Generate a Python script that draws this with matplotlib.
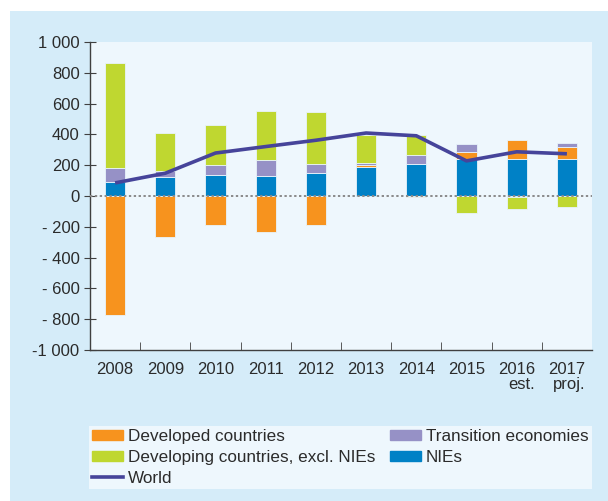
import matplotlib.pyplot as plt
import matplotlib.patches as mpatches
from matplotlib.lines import Line2D
import numpy as np

plt.rcParams["font.family"] = ["Liberation Sans", "DejaVu Sans"]

years = ["2008", "2009", "2010", "2011", "2012", "2013", "2014", "2015", "2016\nest.", "2017\nproj."]
nies = [89, 126, 137, 133, 150, 187, 211, 241, 243, 243]
developed = [-773, -263, -188, -233, -188, 13, -9, 46, 122, 72]
transition = [93, 39, 65, 99, 61, 13, 52, 50, -5, 28]
developing = [679, 241, 261, 317, 334, 185, 135, -111, -77, -72]
world = [85, 148, 279, 321, 362, 409, 391, 228, 287, 274]

yticks = [1000, 800, 600, 400, 200, 0, -200, -400, -600, -800, -1000]
ytick_labels = ["1 000", "800", "600", "400", "200", "0", "- 200", "- 400", "- 600", "- 800", "-1 000"]

c_dev = "#f7931e"
c_devg = "#bfd730"
c_tran = "#9691c6"
c_nie = "#0081c6"
c_world = "#46449a"
bg_out = "#d5ecf9"
bg_in = "#eef7fd"
txt = "#2b2b2b"

W, H = 608, 501
fig = plt.figure(figsize=(W / 100, H / 100), dpi=100)
fig.patch.set_facecolor("white")
fig.patches.append(mpatches.Rectangle((10 / W, 0), 1, 1 - 11 / H, transform=fig.transFigure,
                                      facecolor=bg_out, edgecolor="none", zorder=-10))

ax = fig.add_axes([90 / W, 1 - 350 / H, (592 - 90) / W, (350 - 42) / H])
ax.set_facecolor(bg_in)

x = np.arange(len(years))
width = 0.4
series = [(nies, c_nie), (developed, c_dev), (transition, c_tran), (developing, c_devg)]
pos = np.zeros(len(x))
neg = np.zeros(len(x))
for vals, col in series:
    v = np.array(vals, dtype=float)
    bottom = np.where(v >= 0, pos, neg)
    ax.bar(x, v, width, bottom=bottom, color=col, edgecolor="#e8f4fb", linewidth=0.6, zorder=2)
    pos = pos + np.where(v >= 0, v, 0)
    neg = neg + np.where(v < 0, v, 0)

ax.axhline(0, color="#8a8a8a", linestyle=(0, (1.2, 1.3)), linewidth=1.4, zorder=3)
ax.plot(x, world, color=c_world, linewidth=2.6, zorder=4, solid_capstyle="butt")

ax.set_xlim(-0.5, len(x) - 0.5)
ax.set_ylim(-1000, 1000)
ax.set_yticks(yticks)
ax.set_yticklabels(ytick_labels)
ax.set_xticks(x)
ax.set_xticklabels(years, multialignment="right", linespacing=0.95)
ax.set_xticks(np.arange(0.5, len(x) - 0.5, 1), minor=True)
ax.tick_params(axis="x", which="major", length=0, labelsize=12, colors=txt, pad=9)
ax.tick_params(axis="x", which="minor", direction="in", length=6, color="#404040")
ax.tick_params(axis="y", direction="inout", length=9, labelsize=12, colors=txt, pad=3)
ax.tick_params(axis="y", color="#404040")

for s in ["top", "right"]:
    ax.spines[s].set_visible(False)
for s in ["left", "bottom"]:
    ax.spines[s].set_color("#404040")
    ax.spines[s].set_linewidth(1.0)

handles = [
    mpatches.Patch(color=c_dev, label="Developed countries"),
    mpatches.Patch(color=c_devg, label="Developing countries, excl. NIEs"),
    Line2D([], [], color=c_world, linewidth=2.6, label="World"),
    mpatches.Patch(color=c_tran, label="Transition economies"),
    mpatches.Patch(color=c_nie, label="NIEs"),
]
leg = fig.legend(handles=handles, ncol=2, loc="lower left",
                 bbox_to_anchor=(89 / W, 1 - 489 / H, (592 - 89) / W, (489 - 421) / H),
                 mode="expand", fontsize=12.3, frameon=True, fancybox=False,
                 facecolor=bg_in, edgecolor="none", framealpha=1,
                 handlelength=1.8, handleheight=0.55, handletextpad=0.3,
                 labelspacing=0.33, borderpad=0.2, borderaxespad=0, columnspacing=0.3)
for t in leg.get_texts():
    t.set_color(txt)

fig.savefig("out.png", dpi=100)
